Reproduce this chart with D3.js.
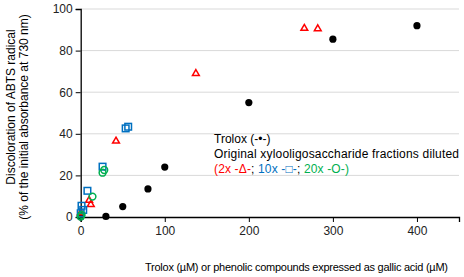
<!DOCTYPE html>
<html><head><meta charset="utf-8">
<script src="https://cdn.jsdelivr.net/npm/d3@7"></script>
<style>body{margin:0;background:#fff}svg{display:block;font-family:"Liberation Sans",Arial,sans-serif}</style>
</head><body><svg id="c" width="464" height="277"></svg>
<script>
const xTicks=[0,100,200,300,400];
const yTicks=[0,20,40,60,80,100];
const troloxX=[0,30,50,80,100,200,300,400];
const troloxY=[0,0.3,5,13.5,24,55,85.5,92];
const dil2X=[0,10,12,42,137,266,282];
const dil2Y=[2,8,6,36.5,69,90.7,90.5];
const dil10X=[0,1,3,8,26,53.5,56.5];
const dil10Y=[1.8,5.4,3.4,12.6,24.2,42.6,43.4];
const dil20X=[0,1,14,26,28];
const dil20Y=[0.2,1,9.8,21.3,22.6];

const svg=d3.select("#c");
const x=d3.scaleLinear().domain([0,450]).range([80.7,459]);
const y=d3.scaleLinear().domain([0,100]).range([217,9]);

svg.append("g").selectAll("line").data(yTicks.filter(d=>d>0)).join("line")
 .attr("x1",x(0)).attr("x2",x(450)).attr("y1",d=>y(d)).attr("y2",d=>y(d))
 .attr("stroke","#d9d9d9").attr("stroke-width",1);

const xa=svg.append("g").attr("transform",`translate(0,${y(0)})`)
 .call(d3.axisBottom(x).tickValues(xTicks).tickSize(5).tickPadding(4));
const ya=svg.append("g").attr("transform",`translate(${x(0)},0)`)
 .call(d3.axisLeft(y).tickValues(yTicks).tickSize(5).tickPadding(3));
[xa,ya].forEach(a=>{a.select(".domain").attr("stroke","#000").attr("stroke-width",1.3);
 a.selectAll(".tick line").attr("stroke","#000");
 a.selectAll("text").attr("font-size",12).attr("fill","#222").attr("font-family","Liberation Sans, Arial, sans-serif");});

const zip=(a,b)=>a.map((v,i)=>[v,b[i]]);
svg.append("g").selectAll("circle").data(zip(troloxX,troloxY)).join("circle")
 .attr("cx",d=>x(d[0])).attr("cy",d=>y(d[1])).attr("r",3.6).attr("fill","#000");
svg.append("g").selectAll("path").data(zip(dil2X,dil2Y)).join("path")
 .attr("transform",d=>`translate(${x(d[0])},${y(d[1])})`)
 .attr("d",d3.symbol(d3.symbolTriangle,20)).attr("fill","none").attr("stroke","#ff0000").attr("stroke-width",1.5);
svg.append("g").selectAll("rect").data(zip(dil10X,dil10Y)).join("rect")
 .attr("x",d=>x(d[0])-3.3).attr("y",d=>y(d[1])-3.3).attr("width",6.6).attr("height",6.6)
 .attr("fill","none").attr("stroke","#0070c0").attr("stroke-width",1.5);
svg.append("g").selectAll("circle").data(zip(dil20X,dil20Y)).join("circle")
 .attr("cx",d=>x(d[0])).attr("cy",d=>y(d[1])).attr("r",3.4)
 .attr("fill","none").attr("stroke","#00b050").attr("stroke-width",1.5);

const lg=svg.append("g").attr("font-size",12).attr("fill","#000");
lg.append("text").attr("x",214).attr("y",143).text("Trolox (-•-)");
lg.append("text").attr("x",214).attr("y",158).attr("textLength",245).text("Original xylooligosaccharide fractions diluted");
const t3=lg.append("text").attr("x",214).attr("y",173).attr("textLength",135);
[["(2x -Δ-","#ff0000"],["; ","#000"],["10x -□-","#0070c0"],["; ","#000"],["20x -O-)","#00b050"]]
 .forEach(([s,c])=>t3.append("tspan").attr("fill",c).text(s));

svg.append("text").attr("x",145).attr("y",271).attr("font-size",11).attr("textLength",303)
 .text("Trolox (µM) or phenolic compounds expressed as gallic acid (µM)");
svg.append("text").attr("transform","translate(15,107) rotate(-90)").attr("text-anchor","middle").attr("font-size",12)
 .attr("x",0).attr("y",0).text("Discoloration of ABTS radical");
svg.append("text").attr("transform","translate(27.5,117) rotate(-90)").attr("text-anchor","middle").attr("font-size",12)
 .attr("x",0).attr("y",0).text("(% of the initial absorbance at 730 nm)");
</script></body></html>
